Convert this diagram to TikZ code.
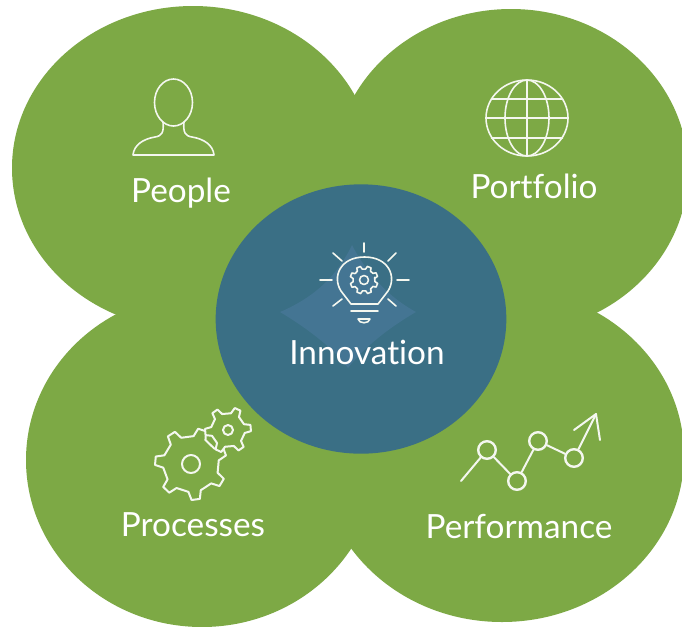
\documentclass[tikz,border=0pt]{standalone}
\usepackage{fontspec}
\usetikzlibrary{shapes.geometric}
\setmainfont{Lato}[Ligatures=NoCommon]
\definecolor{leaf}{HTML}{7DA945}
\definecolor{hubc}{HTML}{3A6F85}
\definecolor{diam}{HTML}{447593}
\definecolor{ink}{HTML}{F4F7EF}
\tikzset{
  petal/.style={fill=leaf,draw=none},
  lab/.style={text=white,font=\fontsize{25pt}{30pt}\selectfont,inner sep=0pt},
  icon/.style={draw=ink,line width=1.5pt,line join=round,line cap=round},
  thin icon/.style={icon,line width=1.2pt},
  dot/.style={circle,draw=ink,line width=1.8pt,minimum size=13.2pt,inner sep=0pt},
}
\newcommand{\gearpath}[5]{% teeth, phase, tip, root, hub
  \pgfmathsetmacro{\gst}{360/#1}
  \pgfmathtruncatemacro{\glast}{#1-1}
  \draw[icon,fill=leaf] ({#2-0.25*\gst}:#4)
    \foreach \k in {0,...,\glast}{
      -- ({#2+\k*\gst-0.25*\gst}:#4)
      -- ({#2+\k*\gst-0.13*\gst}:#3)
      -- ({#2+\k*\gst+0.13*\gst}:#3)
      -- ({#2+\k*\gst+0.25*\gst}:#4)
    } -- cycle;
  \draw[icon] (0,0) circle (#5);
}
\begin{document}
\begin{tikzpicture}[x=0.75pt,y=-0.75pt]
\useasboundingbox (0,0) rectangle (682,626);
\fill[white] (0,0) rectangle (682,626);
\begin{scope}
\clip (0,0) rectangle (682,626);
\fill[petal] (193,168) ellipse [x radius=181,y radius=162];
\fill[petal] (511,171) ellipse [x radius=177,y radius=162];
\fill[petal] (202,460) ellipse [x radius=176,y radius=167];
\fill[petal] (502,455) ellipse [x radius=182,y radius=167];
\end{scope}
\node[ellipse,fill=hubc,minimum width=218pt,minimum height=202pt,inner sep=0pt] (hub) at (361,319) {};
\fill[diam] (280,312) .. controls (320,295) and (340,270) .. (352,245)
  .. controls (365,270) and (385,295) .. (416,312)
  .. controls (385,330) and (362,350) .. (348,368)
  .. controls (335,350) and (310,330) .. (280,312) -- cycle;

% person
\draw[thin icon] (173.5,102.5) ellipse [x radius=19,y radius=23.5];
\draw[thin icon] (163,122) .. controls (164,132) and (162,136) .. (155,137)
  .. controls (143,139) and (134,145) .. (133,155) -- (214,155)
  .. controls (213,145) and (204,139) .. (192,137)
  .. controls (185,136) and (183,132) .. (184,122);

% globe
\draw[thin icon] (527,118) ellipse [x radius=41,y radius=38];
\draw[thin icon] (527,118) ellipse [x radius=22,y radius=38];
\draw[thin icon] (527,80) -- (527,156);
\draw[thin icon] (486,118) -- (568,118);
\draw[thin icon] (491.5,99) -- (562.5,99);
\draw[thin icon] (491.5,138) -- (562.5,138);

% bulb
\draw[thin icon] (351,304) -- (378,304) -- (388,291)
  .. controls (397,277) and (389,257) .. (364.5,257)
  .. controls (340,257) and (332,277) .. (341,291) -- cycle;
\draw[thin icon] (351,311) -- (378,311);
\draw[thin icon] (358,319) -- (370,319) .. controls (369,324) and (359,324) .. (358,319) -- cycle;
\draw[thin icon] (364,243) -- (364,252);
\draw[thin icon] (320,280) -- (332,280);
\draw[thin icon] (397,280) -- (409,280);
\draw[thin icon] (333,253) -- (342,261);
\draw[thin icon] (396,253) -- (388,261);
\draw[thin icon] (333,306) -- (342,299);
\draw[thin icon] (396,306) -- (388,299);
\begin{scope}[shift={(364,280)}]
  \draw[thin icon] (-14:11)
    \foreach \k in {0,...,7}{
      -- ({\k*45+22-14}:11) -- ({\k*45+22-8}:14) -- ({\k*45+22+8}:14) -- ({\k*45+22+14}:11)
    } -- cycle;
  \draw[thin icon] (0,0) circle (4.5);
\end{scope}

% gears
\begin{scope}[shift={(191,464)}]
  \gearpath{7}{31}{36}{28}{9}
\end{scope}
\begin{scope}[shift={(228,430)}]
  \gearpath{6}{-5}{23}{17}{5}
\end{scope}

% performance
\node[dot] (p1) at (487,450) {};
\node[dot] (p2) at (517,481) {};
\node[dot] (p3) at (538,441) {};
\node[dot] (p4) at (574,458) {};
\coordinate (p0) at (461,481);
\coordinate (tip) at (596,414);
\coordinate (b1) at (574,430);
\coordinate (b2) at (600,440);
\draw[icon] (p0) -- (p1);
\draw[icon] (p1) -- (p2);
\draw[icon] (p2) -- (p3);
\draw[icon] (p3) -- (p4);
\draw[icon] (p4) -- (tip);
\draw[icon] (b1) -- (tip) -- (b2);

% labels
\node[lab] (people) at (181,193) {People};
\node[lab] (portfolio) at (534,186) {Portfolio};
\node[lab] (innovation) at (367,352) {Innovation};
\node[lab] (processes) at (193,525) {Processes};
\node[lab] (performance) at (519,527) {Performance};
\end{tikzpicture}
\end{document}
